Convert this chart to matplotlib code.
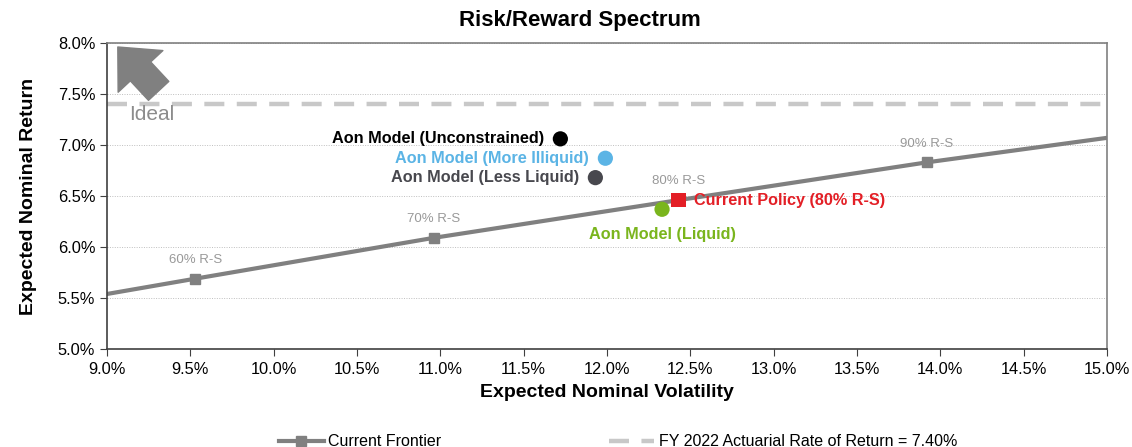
import numpy as np
import matplotlib.pyplot as plt
from matplotlib.patches import FancyArrowPatch
from matplotlib.ticker import FuncFormatter

plt.rcParams['font.family'] = ['Liberation Sans', 'DejaVu Sans']

# frontier (volatility %, return %)
frontier_x = [9.0, 9.53, 10.96, 12.43, 13.92, 15.0]
frontier_y = [5.54, 5.69, 6.09, 6.46, 6.83, 7.07]
frontier_labels = ["", "60% R-S", "70% R-S", "80% R-S", "90% R-S", ""]

# portfolios
port_names = ["Aon Model (Unconstrained)", "Aon Model (More Illiquid)",
              "Aon Model (Less Liquid)", "Aon Model (Liquid)"]
port_x = [11.72, 11.99, 11.93, 12.33]
port_y = [7.06, 6.87, 6.68, 6.37]
port_colors = ["#000000", "#5BB4E5", "#48484E", "#7AB51D"]

policy_name = "Current Policy (80% R-S)"
policy_x = 12.43
policy_y = 6.46

target_rate = 7.40

fig = plt.figure(figsize=(11.32, 4.47), dpi=100)
ax = fig.add_axes([0.0945, 0.219, 0.8835, 0.685])

# grid
for yv in np.arange(5.0, 8.01, 0.5):
    ax.axhline(yv, color="#BFBFBF", lw=0.7, ls=(0, (1, 1.5)), zorder=0)

# frontier
ax.plot(frontier_x, frontier_y, color="#808080", lw=3, zorder=2,
        marker="s", markersize=7, markevery=[1, 2, 3, 4], label="Current Frontier")
for x, y, t in zip(frontier_x, frontier_y, frontier_labels):
    if t:
        ax.annotate(t, (x, y), xytext=(0, 13.5), textcoords="offset points",
                    ha="center", va="center", fontsize=9.5, color="#999999")

# actuarial rate
ax.axhline(target_rate, color="#C8C8C8", lw=3.2, ls=(0, (4.5, 2.8)), zorder=1,
           label="FY 2022 Actuarial Rate of Return = 7.40%")

# portfolios
ax.scatter(port_x, port_y, s=120, c=port_colors, zorder=4, edgecolors="none")
offsets = [(-12, 0), (-12, 0), (-12, 0), (0, -18)]
aligns = ["right", "right", "right", "center"]
for name, x, y, c, off, ha in zip(port_names, port_x, port_y, port_colors, offsets, aligns):
    ax.annotate(name, (x, y), xytext=off, textcoords="offset points",
                ha=ha, va="center", fontsize=11.7, fontweight="bold", color=c)

ax.scatter([policy_x], [policy_y], s=110, marker="s", c="#E31F26", zorder=5, edgecolors="none")
ax.annotate(policy_name, (policy_x, policy_y), xytext=(11, 0), textcoords="offset points",
            ha="left", va="center", fontsize=11.7, fontweight="bold", color="#E31F26")

# ideal arrow
arrow = FancyArrowPatch((9.31, 7.53), (9.065, 7.96),
                        arrowstyle="simple,head_length=24,head_width=44,tail_width=20",
                        mutation_scale=1, color="#808080", shrinkA=0, shrinkB=0, zorder=3)
ax.add_patch(arrow)
ax.text(9.135, 7.30, "Ideal", fontsize=15, color="#8C8C8C", ha="left", va="center")

ax.set_xlim(9.0, 15.0)
ax.set_ylim(5.0, 8.0)
ax.set_xticks(np.arange(9.0, 15.01, 0.5))
ax.set_yticks(np.arange(5.0, 8.01, 0.5))
ax.xaxis.set_major_formatter(FuncFormatter(lambda v, p: f"{v:.1f}%"))
ax.yaxis.set_major_formatter(FuncFormatter(lambda v, p: f"{v:.1f}%"))
ax.tick_params(labelsize=11.8, length=5, color="#404040", direction="out")
ax.tick_params(axis="x", pad=4)

for s in ["left", "bottom"]:
    ax.spines[s].set_color("#404040")
    ax.spines[s].set_linewidth(1.2)
for s in ["top", "right"]:
    ax.spines[s].set_color("#808080")
    ax.spines[s].set_linewidth(1.2)

ax.set_xlabel("Expected Nominal Volatility", fontsize=14, fontweight="bold", labelpad=5)
ax.set_ylabel("Expected Nominal Return", fontsize=14, fontweight="bold", labelpad=15)
fig.text(0.512, 0.955, "Risk/Reward Spectrum", fontsize=16, fontweight="bold",
         ha="center", va="center")

fig.legend(loc="center", bbox_to_anchor=(0.546, 0.012), ncol=2, frameon=False,
           fontsize=11.5, columnspacing=10.5, handlelength=2.8, handletextpad=0.3)

fig.savefig("out.png", dpi=100)
